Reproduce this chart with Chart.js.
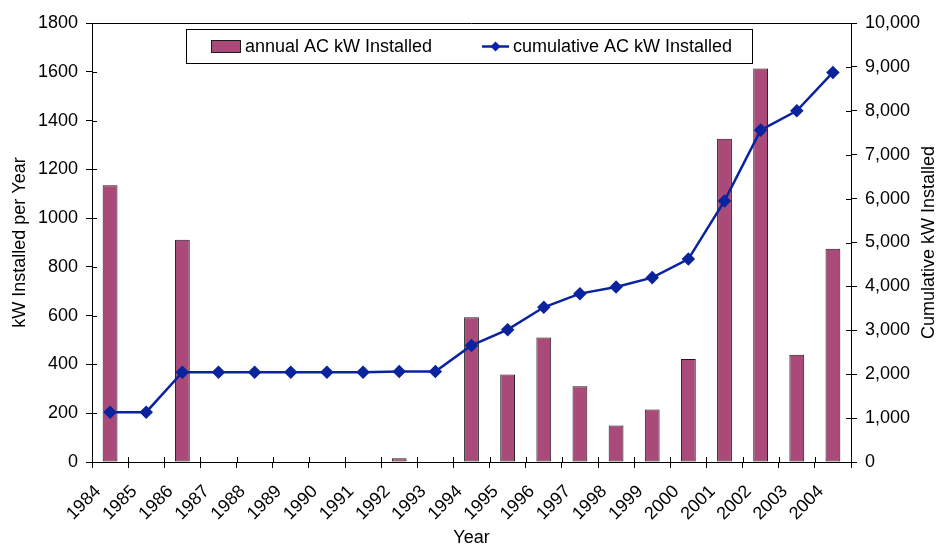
<!DOCTYPE html>
<html>
<head>
<meta charset="utf-8">
<script src="https://cdn.jsdelivr.net/npm/chart.js@4"></script>
<style>
  html, body { margin: 0; padding: 0; background: #fff; }
  #wrap { width: 944px; height: 546px; }
</style>
</head>
<body>
<div id="wrap"><canvas id="pvChart" width="944" height="546"></canvas></div>
<script>
const years = ['1984', '1985', '1986', '1987', '1988', '1989', '1990', '1991', '1992', '1993', '1994',
    '1995', '1996', '1997', '1998', '1999', '2000', '2001', '2002', '2003', '2004'];
const annualKW = [1135, 0, 911, 0, 0, 0, 0, 0, 15, 0, 594, 359, 510, 311, 150, 215, 422, 1325, 1613, 440, 874];
const cumulativeKW = [1135, 1135, 2046, 2046, 2046, 2046, 2046, 2046, 2061, 2061, 2655, 3014, 3524, 3835, 3985,
    4200, 4622, 5947, 7560, 8000, 8874];
const leftTicks = [0, 200, 400, 600, 800, 1000, 1200, 1400, 1600, 1800];
const rightTicks = [0, 1000, 2000, 3000, 4000, 5000, 6000, 7000, 8000, 9000, 10000];

const BAR = '#A94A78';
const LINE = '#0A239E';
const FONT = '"Liberation Sans", Arial, sans-serif';
const FS = 18;

// crossing tick marks, frame top, custom legend, right axis title
const decor = {
    id: 'decor',
    afterDraw(chart) {
        const { ctx, chartArea: a, scales } = chart;
        ctx.save();
        ctx.strokeStyle = '#000';
        ctx.lineWidth = 1;
        ctx.beginPath();
        ctx.moveTo(a.left, a.top + 0.5); ctx.lineTo(a.right, a.top + 0.5);
        leftTicks.forEach(v => { const y = Math.round(scales.y.getPixelForValue(v)) + 0.5; ctx.moveTo(a.left, y); ctx.lineTo(a.left + 5, y); });
        rightTicks.forEach(v => { const y = Math.round(scales.y1.getPixelForValue(v)) + 0.5; ctx.moveTo(a.right, y); ctx.lineTo(a.right - 5, y); });
        for (let i = 0; i <= years.length; i++) {
            const x = Math.round(a.left + (a.right - a.left) * i / years.length) + 0.5;
            ctx.moveTo(x, a.bottom); ctx.lineTo(x, a.bottom - 5);
        }
        ctx.stroke();

        // legend
        ctx.fillStyle = '#fff';
        ctx.fillRect(186, 29, 566, 34);
        ctx.strokeRect(186.5, 29.5, 566, 34);
        ctx.fillStyle = BAR;
        ctx.fillRect(211, 40, 29, 12);
        ctx.strokeStyle = '#1a1a1a';
        ctx.strokeRect(211.5, 40.5, 29, 12);
        ctx.strokeStyle = LINE;
        ctx.lineWidth = 2.5;
        ctx.beginPath(); ctx.moveTo(482, 46.5); ctx.lineTo(509, 46.5); ctx.stroke();
        ctx.fillStyle = LINE;
        ctx.beginPath(); ctx.moveTo(495.5, 41.5); ctx.lineTo(500.5, 46.5); ctx.lineTo(495.5, 51.5); ctx.lineTo(490.5, 46.5); ctx.closePath(); ctx.fill();
        ctx.fillStyle = '#000';
        ctx.font = FS + 'px ' + FONT;
        ctx.textBaseline = 'middle';
        ctx.textAlign = 'left';
        ctx.fillText('annual AC kW Installed', 245, 47);
        ctx.fillText('cumulative AC kW Installed', 513, 47);

        // right axis title, reads bottom to top
        ctx.translate(929, (a.top + a.bottom) / 2);
        ctx.rotate(-Math.PI / 2);
        ctx.textAlign = 'center';
        ctx.fillText('Cumulative kW Installed', 0, 0);
        ctx.restore();
    }
};

new Chart(document.getElementById('pvChart'), {
    type: 'bar',
    data: {
        labels: years,
        datasets: [
            {
                type: 'line',
                label: 'cumulative AC kW Installed',
                data: cumulativeKW,
                yAxisID: 'y1',
                borderColor: LINE,
                backgroundColor: LINE,
                borderWidth: 2.5,
                pointStyle: 'rectRot',
                pointRadius: 5,
                tension: 0,
                order: 0
            },
            {
                label: 'annual AC kW Installed',
                data: annualKW,
                yAxisID: 'y',
                backgroundColor: BAR,
                borderColor: '#1a1a1a',
                borderWidth: 1,
                borderSkipped: false,
                categoryPercentage: 1,
                barPercentage: 0.41,
                order: 1
            }
        ]
    },
    options: {
        responsive: false,
        animation: false,
        layout: { padding: { top: 23, left: 0, right: 0, bottom: 0 } },
        plugins: { legend: { display: false }, tooltip: { enabled: false } },
        scales: {
            x: {
                offset: true,
                afterFit: s => { s.height = 84; },
                grid: { offset: true, drawOnChartArea: false, tickLength: 6, color: '#000' },
                border: { color: '#000', width: 1 },
                ticks: { color: '#000', font: { family: FONT, size: FS }, maxRotation: 45, minRotation: 45, labelOffset: -12, padding: 13, autoSkip: false },
                title: { display: true, text: 'Year', color: '#000', font: { family: FONT, size: FS }, padding: { top: 0, bottom: -3 } }
            },
            y: {
                position: 'left',
                min: 0, max: 1800,
                afterFit: s => { s.width = 92; },
                grid: { drawOnChartArea: false, tickLength: 6, color: '#000' },
                border: { color: '#000', width: 1 },
                ticks: { stepSize: 200, color: '#000', font: { family: FONT, size: FS }, padding: 8, callback: v => String(v) },
                title: { display: true, text: 'kW Installed per Year', color: '#000', font: { family: FONT, size: FS }, padding: { top: 9, bottom: 0 } }
            },
            y1: {
                position: 'right',
                min: 0, max: 10000,
                afterFit: s => { s.width = 93; },
                grid: { drawOnChartArea: false, tickLength: 6, color: '#000' },
                border: { color: '#000', width: 1 },
                ticks: { stepSize: 1000, color: '#000', font: { family: FONT, size: FS }, padding: 8,
                    callback: v => v.toLocaleString('en-US') }
            }
        }
    },
    plugins: [decor]
});
</script>
</body>
</html>
